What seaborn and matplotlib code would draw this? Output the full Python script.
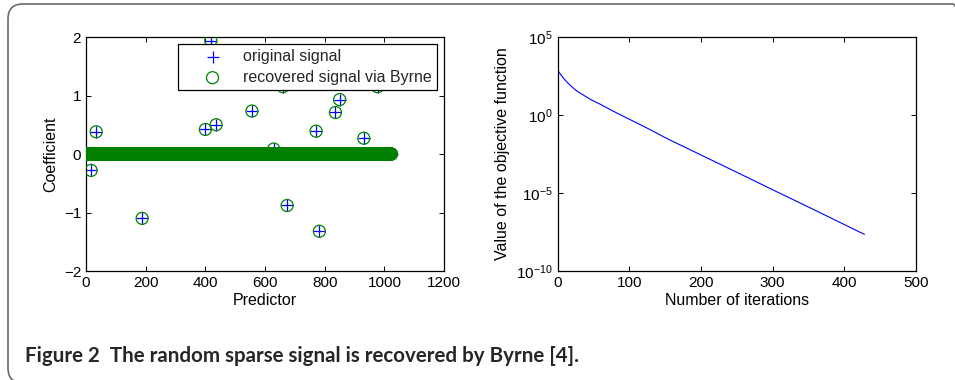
import numpy as np
import pandas as pd
import seaborn as sns
import matplotlib.pyplot as plt
from matplotlib.patches import FancyBboxPatch
from matplotlib.ticker import NullLocator, FixedLocator

# signal: 1024 coefficients, only these are non-zero
n_coef = 1024
spike_pos = [16, 33, 187, 399, 417, 435, 555, 628, 659, 673, 770, 781, 835, 849, 930, 976]
spike_val = [-0.28, 0.38, -1.10, 0.42, 1.94, 0.50, 0.735, 0.085, 1.15, -0.88, 0.39, -1.32, 0.71, 0.93, 0.27, 1.15]

# objective function vs iterations
iters = [0, 2, 5, 9, 14, 20, 27, 36, 47, 60, 75, 90, 110, 130, 152,
         200, 250, 300, 350, 400, 428]
objective = [7.9e2, 5.7e2, 3.6e2, 2.1e2, 1.17e2, 6.35e1, 3.46e1, 1.9e1, 9.33, 4.79, 2.04,
             9.1e-1, 3.2e-1, 1.1e-1, 3.2e-2, 2.75e-3, 2.14e-4, 1.62e-5, 1.26e-6, 9.5e-8, 2.24e-8]

caption = "Figure 2  The random sparse signal is recovered by Byrne [4]."

signal = np.zeros(n_coef)
signal[spike_pos] = spike_val
df = pd.DataFrame({'predictor': np.arange(1, n_coef + 1), 'original': signal, 'recovered': signal})
obj_df = pd.DataFrame({'iteration': iters, 'value': objective})

sns.set_theme(style='ticks', rc={
    'axes.linewidth': 0.9, 'axes.edgecolor': 'black',
    'xtick.direction': 'in', 'ytick.direction': 'in',
    'xtick.top': True, 'ytick.right': True,
    'xtick.major.size': 3.5, 'ytick.major.size': 3.5,
    'xtick.major.width': 0.7, 'ytick.major.width': 0.7,
    'xtick.color': 'black', 'ytick.color': 'black',
    'xtick.labelsize': 11, 'ytick.labelsize': 11,
    'axes.labelsize': 11.5, 'axes.labelcolor': 'black',
    'mathtext.fontset': 'custom', 'mathtext.rm': 'Liberation Sans',
    'mathtext.it': 'Liberation Sans:italic',
})
plt.rcParams['font.family'] = ['Liberation Sans', 'DejaVu Sans']

fig = plt.figure(figsize=(9.55, 3.8), dpi=100)
ax1 = fig.add_axes([0.0901, 0.2868, 0.3749, 0.6158])
ax2 = fig.add_axes([0.5838, 0.2868, 0.3754, 0.6158])

# left: original vs recovered signal
sns.scatterplot(data=df, x='predictor', y='original', ax=ax1, marker='+', s=70,
                color='blue', linewidths=0.9, label='original signal', zorder=2)
sns.scatterplot(data=df, x='predictor', y='recovered', ax=ax1, marker='o', s=75,
                color='green', facecolor='none', edgecolor='green', linewidths=0.9,
                label='recovered signal via Byrne', zorder=3)
ax1.set_xlim(0, 1200)
ax1.set_ylim(-2, 2)
ax1.set_xticks(range(0, 1201, 200))
ax1.set_yticks([-2, -1, 0, 1, 2])
ax1.set_yticklabels(['\u22122', '\u22121', '0', '1', '2'])
ax1.set_xlabel('Predictor', labelpad=2)
ax1.set_ylabel('Coefficient', labelpad=4)
leg = ax1.legend(loc='upper right', fontsize=11.5, frameon=True, fancybox=False,
                 edgecolor='black', framealpha=1, borderaxespad=0.45, borderpad=0.33,
                 handlelength=3.6, handletextpad=0.1, labelspacing=0.34)
leg.get_frame().set_linewidth(0.9)
leg.set_zorder(5)

# right: objective function
sns.lineplot(data=obj_df, x='iteration', y='value', ax=ax2, color='blue', linewidth=0.8)
ax2.set_yscale('log')
ax2.set_xlim(0, 500)
ax2.set_ylim(1e-10, 1e5)
ax2.yaxis.set_major_locator(FixedLocator([1e-10, 1e-5, 1e0, 1e5]))
ax2.yaxis.set_minor_locator(NullLocator())
ax2.set_xticks(range(0, 501, 100))
ax2.set_xlabel('Number of iterations', labelpad=2)
ax2.set_ylabel('Value of the objective function', labelpad=4)

for ax in (ax1, ax2):
    for sp in ax.spines.values():
        sp.set_visible(True)

# rounded journal frame
frame = FancyBboxPatch((0.08, -0.03), 9.6, 3.79, boxstyle='round,pad=0,rounding_size=0.15',
                       transform=fig.dpi_scale_trans, facecolor='none',
                       edgecolor='#6a6a6a', linewidth=1.2, clip_on=False)
fig.patches.append(frame)

cap = fig.text(25 / 955, 1 - 361.5 / 380, caption, fontsize=13, fontweight='bold',
               family=['Lato', 'DejaVu Sans'], ha='left', va='baseline')
fig.canvas.draw()
w = cap.get_window_extent().width
cap.set_fontsize(13 * 552 / w)

fig.savefig('out.png', dpi=100)
